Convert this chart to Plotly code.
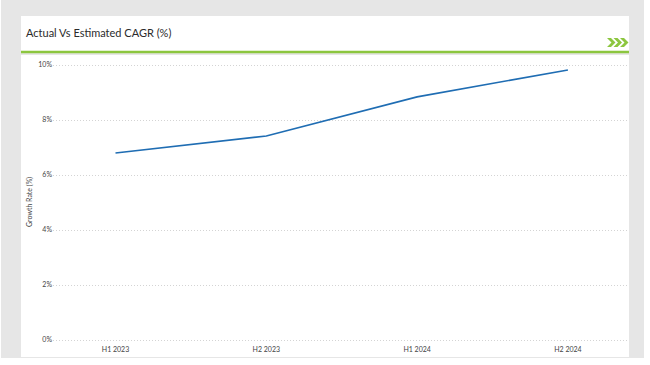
import plotly.graph_objects as go

periods = ["H1 2023", "H2 2023", "H1 2024", "H2 2024"]
growth_rate = [6.8, 7.42, 8.84, 9.82]
y_ticks = [0, 2, 4, 6, 8, 10]
y_tick_labels = ["0%", "2%", "4%", "6%", "8%", "10%"]

W, H = 650, 365
L, R, T, B = 53, 629, 60, 342  # plot area in px


def px(x):
    return (x - L) / (R - L)


def py(y):
    return (B - y) / (B - T)


fig = go.Figure()
fig.add_trace(go.Scatter(
    x=list(range(len(periods))), y=growth_rate, mode="lines",
    line=dict(color="#1f6db3", width=1.6), hoverinfo="skip", showlegend=False,
))

GREEN = "#8cc63f"
shapes = [
    # gray backdrop
    dict(type="rect", xref="paper", yref="paper", x0=px(1), x1=px(644), y0=py(358), y1=py(0),
         fillcolor="#e6e6e6", line=dict(width=0), layer="below"),
    # title card
    dict(type="rect", xref="paper", yref="paper", x0=px(21), x1=px(629), y0=py(51), y1=py(16),
         fillcolor="white", line=dict(width=0), layer="below"),
    # chart card
    dict(type="rect", xref="paper", yref="paper", x0=px(21), x1=px(629), y0=py(357), y1=py(55),
         fillcolor="white", line=dict(width=0), layer="below"),
    # green rule
    dict(type="rect", xref="paper", yref="paper", x0=px(21), x1=px(629), y0=py(53.3), y1=py(50.8),
         fillcolor=GREEN, line=dict(width=0), layer="above"),
]
# chevrons
for i in range(3):
    x0 = 607 + i * 6.5
    pts = [(x0, 38), (x0 + 4, 38), (x0 + 8.5, 42.5), (x0 + 4, 47), (x0, 47), (x0 + 4.5, 42.5)]
    path = "M " + " L ".join(f"{px(a):.5f},{py(b):.5f}" for a, b in pts) + " Z"
    shapes.append(dict(type="path", xref="paper", yref="paper", path=path,
                       fillcolor=GREEN, line=dict(width=0), layer="above"))

annotations = [
    dict(text="Actual Vs Estimated CAGR (%)", xref="paper", yref="paper", x=px(24), y=py(32),
         xanchor="left", yanchor="middle", showarrow=False,
         font=dict(family="Lato", size=11, color="#2b2b2b")),
    dict(text="Growth Rate (%)", xref="paper", yref="paper", x=px(29), y=py(202),
         xanchor="center", yanchor="middle", showarrow=False, textangle=-90,
         font=dict(family="Lato", size=7, color="#444444")),
]

x_per = 150.8
x0px = 115.5
fig.update_layout(
    width=W, height=H,
    margin=dict(l=L, r=W - R, t=T, b=H - B, pad=0),
    paper_bgcolor="white", plot_bgcolor="rgba(0,0,0,0)",
    shapes=shapes, annotations=annotations,
    xaxis=dict(
        range=[(L - x0px) / x_per, (R - x0px) / x_per],
        tickvals=list(range(len(periods))), ticktext=periods,
        showgrid=False, zeroline=False, showline=False, ticks="",
        ticklabelstandoff=2,
        tickfont=dict(family="Lato", size=7, color="#444444"),
        fixedrange=True,
    ),
    yaxis=dict(
        range=[(B - 340) / -27.5, (340 - T) / 27.5],
        tickvals=y_ticks, ticktext=y_tick_labels,
        showgrid=True, gridcolor="#d4d4d4", griddash="1px,2px", gridwidth=1,
        zeroline=False, showline=False, ticks="",
        tickfont=dict(family="Lato", size=7, color="#444444"),
        fixedrange=True,
    ),
)

fig.write_html("out.html", post_script="document.body.style.margin='0px';",
               config={"displayModeBar": False})
